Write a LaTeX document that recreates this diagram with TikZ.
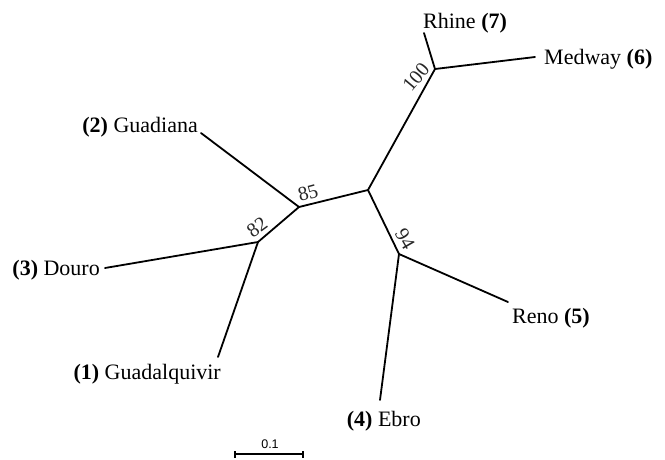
\documentclass[tikz,border=0pt]{standalone}
\usepackage{fontspec}
\setmainfont{Liberation Serif}
\newfontfamily\barfont{Liberation Sans}
\begin{document}
\begin{tikzpicture}[x=1pt,y=-1pt,
  branch/.style={line width=1.8pt, line cap=round},
  leaf/.style={font=\fontsize{22}{26}\selectfont, inner sep=0pt},
  boot/.style={font=\fontsize{20}{24}\selectfont, inner sep=0pt, text=black!85},
  scalebar/.style={line width=1.1pt}]
\useasboundingbox (0,0) rectangle (665,459);
% internal nodes
\coordinate (c) at (368,190);
\coordinate (n100) at (435,69);
\coordinate (n85) at (299,207);
\coordinate (n82) at (258,242);
\coordinate (n94) at (399,254);
% leaf ends
\coordinate (eRhine) at (424,33);
\coordinate (eMedway) at (535,57);
\coordinate (eGuadiana) at (201,133);
\coordinate (eDouro) at (105,268);
\coordinate (eGuadalquivir) at (218,357);
\coordinate (eEbro) at (380,400);
\coordinate (eReno) at (508,302);
% branches
\draw[branch] (c) -- (n100);
\draw[branch] (n100) -- (eRhine);
\draw[branch] (n100) -- (eMedway);
\draw[branch] (c) -- (n85);
\draw[branch] (n85) -- (eGuadiana);
\draw[branch] (n85) -- (n82);
\draw[branch] (n82) -- (eDouro);
\draw[branch] (n82) -- (eGuadalquivir);
\draw[branch] (c) -- (n94);
\draw[branch] (n94) -- (eEbro);
\draw[branch] (n94) -- (eReno);
% leaf labels
\node[leaf, anchor=base west] (rhine) at (423,28) {Rhine \textbf{(7)}};
\node[leaf, anchor=base west] (medway) at (544,64) {Medway \textbf{(6)}};
\node[leaf, anchor=base east] (guadiana) at (198,132) {\textbf{(2)} Guadiana};
\node[leaf, anchor=base east] (douro) at (100,275) {\textbf{(3)} Douro};
\node[leaf, anchor=base east] (guadalquivir) at (221,379) {\textbf{(1)} Guadalquivir};
\node[leaf, anchor=base east] (ebro) at (421,426) {\textbf{(4)} Ebro};
\node[leaf, anchor=base west] (reno) at (512,323) {Reno \textbf{(5)}};
% bootstrap values
\node[boot, rotate=50] (b100) at (416,77) {100};
\node[boot, rotate=15] (b85) at (308,193) {85};
\node[boot, rotate=36] (b82) at (257,227) {82};
\node[boot, rotate=-60] (b94) at (405,239) {94};
% scale bar
\coordinate (s1) at (235,454);
\coordinate (s2) at (303,454);
\draw[scalebar] (s1) -- (s2);
\draw[scalebar] ([yshift=-3.5]s1) -- ([yshift=3.5]s1);
\draw[scalebar] ([yshift=-3.5]s2) -- ([yshift=3.5]s2);
\node[font=\barfont\fontsize{12.5}{14}\selectfont, inner sep=0pt] (sbl) at (270,444) {0.1};
\end{tikzpicture}
\end{document}
